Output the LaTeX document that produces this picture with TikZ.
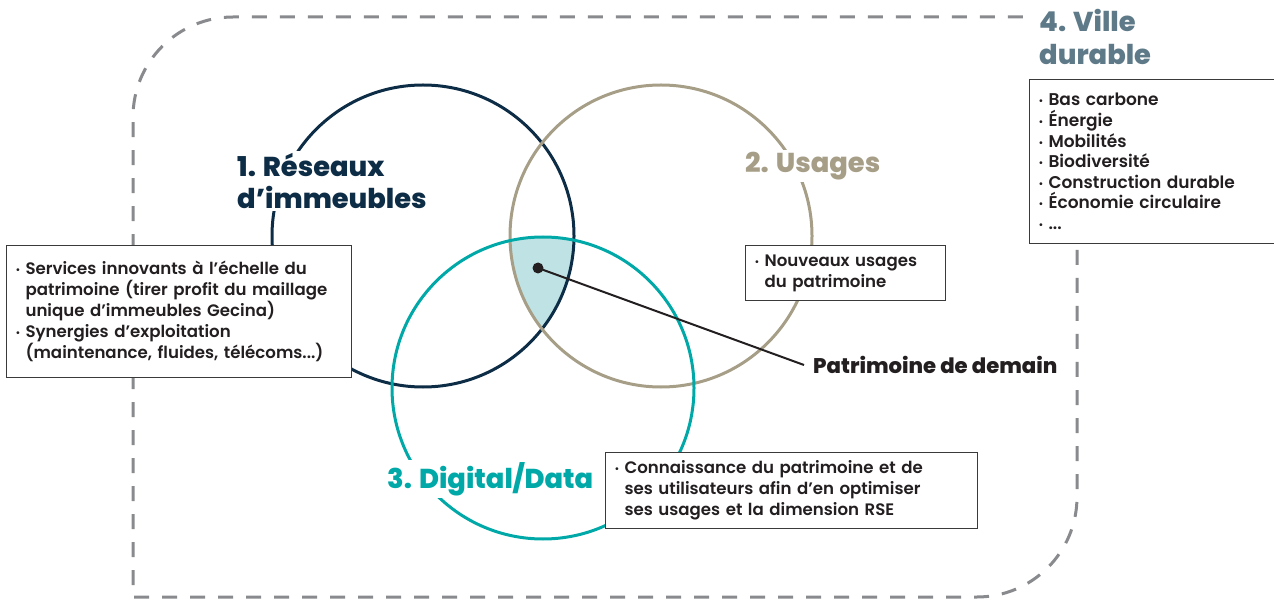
\documentclass[tikz,border=0pt]{standalone}
\usepackage{fontspec}
\setmainfont{Poppins}[UprightFont={* SemiBold},BoldFont={* ExtraBold}]
\definecolor{navy}{HTML}{0D2C45}
\definecolor{tan}{HTML}{A69E86}
\definecolor{teal}{HTML}{00A9A7}
\definecolor{lightteal}{HTML}{BFE3E5}
\definecolor{dashgrey}{HTML}{898A8D}
\definecolor{villec}{HTML}{5E7A88}
\definecolor{txt}{HTML}{231F20}
\definecolor{boxline}{HTML}{3A3A3A}
\newcommand\bul{\makebox[10pt][l]{\raisebox{0.12ex}{\fontsize{10}{10}\selectfont •}}}
\newcommand\ind{\hspace*{10pt}}
\begin{document}
\begin{tikzpicture}[x=1pt,y=-1pt,
  ring/.style={line width=3pt},
  frame/.style={draw=dashgrey,line width=3pt,dash pattern=on 15pt off 13pt},
  infobox/.style={draw=boxline,line width=1.1pt,fill=white,text=txt,align=left,
    inner xsep=9pt,inner ysep=4pt,anchor=north west,
    font=\fontsize{16.6}{21}\selectfont},
  title/.style={fill=white,inner sep=2pt,align=left,anchor=west,
    font=\bfseries\fontsize{27.3}{32}\selectfont},
  dotnode/.style={circle,fill=txt,inner sep=0pt,minimum size=11pt}]
\useasboundingbox (0,0) rectangle (1274,601);
% dashed frame
\draw[frame] (1077,250) -- (1077,497) .. controls (1077,552.2) and (1032.2,597) .. (977,597)
  -- (133,597) -- (133,117) .. controls (133,61.8) and (177.8,17) .. (233,17) -- (1027,17);
% circles
\coordinate (c1) at (423,236);
\coordinate (c2) at (661,236);
\coordinate (c3) at (543,388);
\begin{scope}
  \clip (c1) circle (151pt);
  \clip (c2) circle (151pt);
  \fill[lightteal] (c3) circle (151pt);
\end{scope}
\draw[ring,navy] (c1) circle (151pt);
\draw[ring,tan] (c2) circle (151pt);
\draw[ring,teal] (c3) circle (151pt);
% titles
\node[title,text=navy] (t1) at (235,181) {1. Réseaux\\d’immeubles};
\node[title,text=tan] (t2) at (743,166) {2. Usages};
\node[title,text=teal] (t3) at (385,479) {3. Digital/Data};
\node[title,text=villec,anchor=north west,font=\bfseries\fontsize{27.3}{33}\selectfont] (t4) at (1037,7) {4. Ville\\durable};
% boxes
\node[infobox,text width=327pt,minimum height=132pt] (b1) at (6,245)
  {\bul Services innovants à l’échelle du\\\ind patrimoine (tirer profit du maillage\\\ind unique d’immeubles Gecina)\\\bul Synergies d’exploitation\\\ind (maintenance, fluides, télécoms...)};
\node[infobox,text width=182pt,minimum height=55pt] (b2) at (745,245)
  {\bul Nouveaux usages\\\ind du patrimoine};
\node[infobox,text width=354pt,minimum height=76pt] (b3) at (605,452)
  {\bul Connaissance du patrimoine et de\\\ind ses utilisateurs afin d’en optimiser\\\ind ses usages et la dimension RSE};
\node[infobox,text width=227pt,minimum height=164pt,font=\fontsize{17}{20.6}\selectfont] (b4) at (1029,79)
  {\bul Bas carbone\\\bul Énergie\\\bul Mobilités\\\bul Biodiversité\\\bul Construction durable\\\bul Économie circulaire\\\bul ...};
% connector
\node[dotnode] (pd) at (538,268) {};
\node[anchor=west,inner xsep=9pt,text=txt,font=\bfseries\fontsize{21.2}{24}\selectfont] (pt) at (804,365) {Patrimoine de demain};
\draw[txt,line width=2pt] (pd.center) -- (pt.west);
\end{tikzpicture}
\end{document}
